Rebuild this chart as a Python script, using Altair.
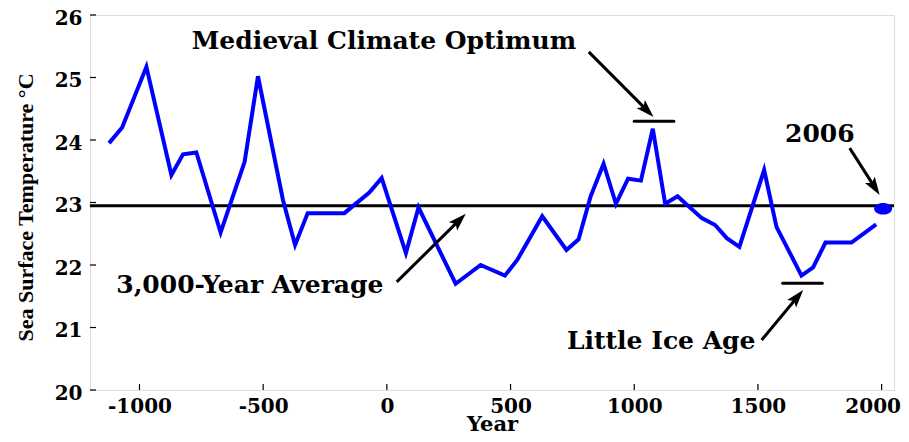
import altair as alt
import pandas as pd

# ---- data ----
years = [-1123, -1070, -972, -871, -824, -770, -672, -575, -521, -420, -371, -320,
         -172, -71, -21, 77, 128, 278, 379, 477, 527, 628, 726, 775, 823, 876, 926,
         975, 1027, 1075, 1125, 1175, 1273, 1327, 1374, 1425, 1525, 1575, 1676, 1723,
         1773, 1878, 1978]
temps = [23.95, 24.20, 25.17, 23.44, 23.77, 23.80, 22.52, 23.65, 25.02, 23.04, 22.32, 22.83,
         22.83, 23.16, 23.39, 22.19, 22.92, 21.70, 22.00, 21.83, 22.08, 22.78, 22.24, 22.41,
         23.09, 23.62, 22.98, 23.38, 23.35, 24.18, 22.98, 23.10, 22.75, 22.64, 22.43, 22.29,
         23.52, 22.61, 21.83, 21.96, 22.36, 22.36, 22.65]

avg_temp = [22.95]

period_start = [1000, 1600]
period_end = [1160, 1760]
period_temp = [24.30, 21.71]

label_text = ["Medieval Climate Optimum", "2006", "3,000-Year Average", "Little Ice Age"]
label_year = [-12, 1750, -554, 1109]
label_temp = [25.58, 24.09, 21.68, 20.79]

arrow_from_year = [816, 1871, 40, 1515]
arrow_from_temp = [25.41, 23.87, 21.73, 20.80]
arrow_to_year = [1078, 1992, 319, 1683]
arrow_to_temp = [24.37, 23.12, 22.82, 21.60]
arrow_angle = [135, 147, 45, 40]

current_year = [2006]
current_temp = [22.90]

x_ticks = [-1000, -500, 0, 500, 1000, 1500, 2000]
y_ticks = [20, 21, 22, 23, 24, 25, 26]

# ---- tables ----
df_line = pd.DataFrame({"year": years, "temp": temps})
df_avg = pd.DataFrame({"temp": avg_temp})
df_bars = pd.DataFrame({"year": period_start, "year2": period_end, "temp": period_temp})
df_labels = pd.DataFrame({"year": label_year, "temp": label_temp, "text": label_text})
df_arrows = pd.DataFrame({
    "year": arrow_from_year, "temp": arrow_from_temp,
    "tip_year": arrow_to_year, "tip_temp": arrow_to_temp, "angle": arrow_angle,
})
frac = 0.88
df_arrows["year2"] = df_arrows["year"] + (df_arrows["tip_year"] - df_arrows["year"]) * frac
df_arrows["temp2"] = df_arrows["temp"] + (df_arrows["tip_temp"] - df_arrows["temp"]) * frac
df_heads = pd.DataFrame({"year": arrow_to_year, "temp": arrow_to_temp, "angle": arrow_angle})
df_dot = pd.DataFrame({"year": current_year, "temp": current_temp})
df_xt = pd.DataFrame({"year": x_ticks})
df_yt = pd.DataFrame({"temp": y_ticks})

# ---- scales / axes ----
W, H = 804, 375
xs = alt.Scale(domain=[-1200, 2050], nice=False, zero=False)
ys = alt.Scale(domain=[20, 26], nice=False, zero=False)

xaxis = alt.Axis(values=x_ticks, title="Year", grid=False, ticks=False, tickSize=0, domain=False,
                 labelExpr="datum.value + ''",
                 labelFont="DejaVu Serif", labelFontWeight="bold", labelFontSize=20,
                 labelColor="black", labelPadding=6, labelOverlap=False, labelFlush=False,
                 labelOffset={"condition": {"test": "datum.value == 2000", "value": -9},
                              "value": 0},
                 titleFont="DejaVu Serif", titleFontWeight="bold", titleFontSize=21,
                 titleColor="black", titleBaseline="alphabetic", titleY=40)
yaxis = alt.Axis(values=y_ticks, title="Sea Surface Temperature °C", grid=False, ticks=False,
                 tickSize=0, domain=False,
                 labelExpr="datum.value + ''",
                 labelFont="DejaVu Serif", labelFontWeight="bold", labelFontSize=20,
                 labelColor="black", labelPadding=8, labelOverlap=False, labelFlush=False,
                 labelOffset=3,
                 titleFont="Liberation Serif", titleFontWeight="bold", titleFontSize=22,
                 titleColor="black", titleAngle=270, titleAlign="center",
                 titleBaseline="middle", titleX=-65, titleY=192)


def X(f="year"):
    return alt.X(f, type="quantitative", scale=xs, axis=xaxis)


def Y(f="temp"):
    return alt.Y(f, type="quantitative", scale=ys, axis=yaxis)


line = alt.Chart(df_line).mark_line(color="#0000FF", strokeWidth=4, strokeJoin="miter").encode(
    x=X(), y=Y())

avg = alt.Chart(df_avg).mark_rule(color="black", strokeWidth=3).encode(y=Y())

bars = alt.Chart(df_bars).mark_rule(color="black", strokeWidth=3, strokeCap="round").encode(
    x=X(), x2=alt.X2("year2"), y=Y())

shafts = alt.Chart(df_arrows).mark_rule(color="black", strokeWidth=3).encode(
    x=X(), y=Y(), x2=alt.X2("year2"), y2=alt.Y2("temp2"))

head_shape = "M0,0L-0.65,2L0,1.6L0.65,2Z"
heads = alt.Chart(df_heads).mark_point(
    shape=head_shape, filled=True, color="black", opacity=1, size=324, strokeWidth=0
).encode(x=X(), y=Y(), angle=alt.Angle("angle:Q", scale=None))

dot_shape = "M-1,0A1,0.65,0,1,0,1,0A1,0.65,0,1,0,-1,0Z"
dot = alt.Chart(df_dot).mark_point(
    shape=dot_shape, filled=True, color="#0000FF", opacity=1, size=324, strokeWidth=0
).encode(x=X(), y=Y())

labels = alt.Chart(df_labels).mark_text(
    font="DejaVu Serif", fontWeight="bold", fontSize=25, color="black",
    align="center", baseline="middle"
).encode(x=X(), y=Y(), text="text:N")

xt = alt.Chart(df_xt).mark_rule(color="black", strokeWidth=1.2).encode(
    x=X(), y=alt.value(H), y2=alt.value(H - 6))
yt = alt.Chart(df_yt).mark_rule(color="black", strokeWidth=1.2).encode(
    y=Y(), x=alt.value(0), x2=alt.value(6))

chart = alt.layer(xt, yt, avg, line, bars, shafts, heads, dot, labels).properties(
    width=W, height=H,
    padding={"left": 82, "top": 7, "right": 7, "bottom": 44},
    autosize=alt.AutoSizeParams(type="none"),
).configure_view(stroke="black", strokeWidth=1.5).configure(background="white")

chart.save("out.html", embed_options={"renderer": "svg", "actions": False})
